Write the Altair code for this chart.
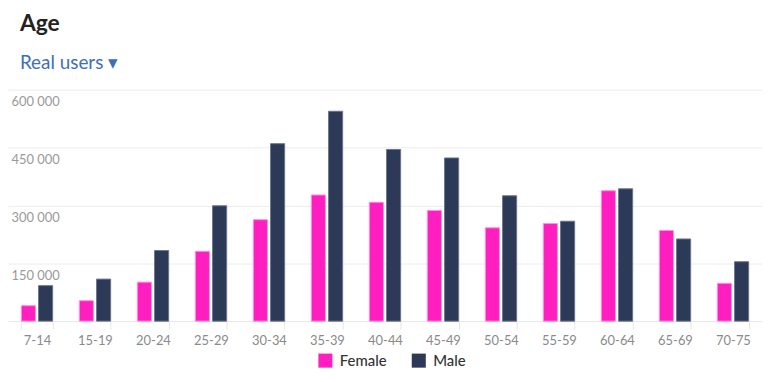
import altair as alt
import pandas as pd

ages = ["7-14", "15-19", "20-24", "25-29", "30-34", "35-39", "40-44",
        "45-49", "50-54", "55-59", "60-64", "65-69", "70-75"]
female = [40000, 53000, 101000, 181000, 263000, 327000, 308000,
          287000, 242000, 253000, 338000, 235000, 98000]
male = [92000, 109000, 183000, 299000, 460000, 544000, 445000,
        423000, 325000, 259000, 343000, 213000, 154000]
genders = ["Female", "Male"]
colors = ["#ff1ebf", "#2c3a58"]
strokes = ["#ff8fe0", "#6b7590"]

rows = []
for i, a in enumerate(ages):
    rows.append({"age": a, "gender": "Female", "value": female[i]})
    rows.append({"age": a, "gender": "Male", "value": male[i]})
df = pd.DataFrame(rows)

FONT = "Lato"

bars = alt.Chart(df).mark_bar(strokeWidth=1).encode(
    x=alt.X("age:N", sort=ages, title=None,
            scale=alt.Scale(paddingInner=0.46, paddingOuter=0.23),
            axis=alt.Axis(labelAngle=0, labelColor="#8a8a8a", labelFontSize=13,
                          labelFont=FONT, labelPadding=6, tickBand="extent",
                          tickColor="#e6e6e6", tickSize=8, domainColor="#e6e6e6",
                          grid=False)),
    xOffset=alt.XOffset("gender:N", sort=genders,
                        scale=alt.Scale(paddingInner=0.18)),
    y=alt.Y("value:Q", title=None,
            scale=alt.Scale(domain=[0, 600000]),
            axis=alt.Axis(values=[150000, 300000, 450000, 600000],
                          labelExpr="replace(format(datum.value, ',d'), ',', ' ')",
                          labelAlign="left", labelBaseline="top",
                          labelPadding=-3, labelOffset=6, ticks=False, tickSize=0,
                          domain=False, labelColor="#999999", labelFontSize=13,
                          labelFont=FONT, gridColor="#ececec", minExtent=0)),
    color=alt.Color("gender:N", sort=genders, title=None,
                    scale=alt.Scale(domain=genders, range=colors),
                    legend=alt.Legend(orient="none", legendX=312, legendY=265,
                                      direction="horizontal", symbolType="square",
                                      symbolSize=200, symbolStrokeWidth=0,
                                      symbolOpacity=1,
                                      labelFontSize=15, labelFont=FONT,
                                      labelColor="#333333", labelFontWeight=500,
                                      labelOffset=7, columnPadding=24)),
    stroke=alt.Stroke("gender:N", sort=genders,
                      scale=alt.Scale(domain=genders, range=strokes), legend=None),
).properties(
    width=759, height=233,
    title=alt.TitleParams("Age", subtitle="Real users ▾", anchor="start",
                          font=FONT, fontSize=23, fontWeight="bold",
                          color="#222222", subtitleFont=FONT, subtitleFontSize=19,
                          subtitleColor="#3d6fb4", subtitlePadding=18,
                          dx=12, offset=17),
    autosize=alt.AutoSizeParams(type="none"),
    padding={"left": 0, "top": 81, "right": 0, "bottom": 52},
).configure_view(stroke=None)

chart = bars
chart.save("out.html", embed_options={"renderer": "svg", "actions": False})
